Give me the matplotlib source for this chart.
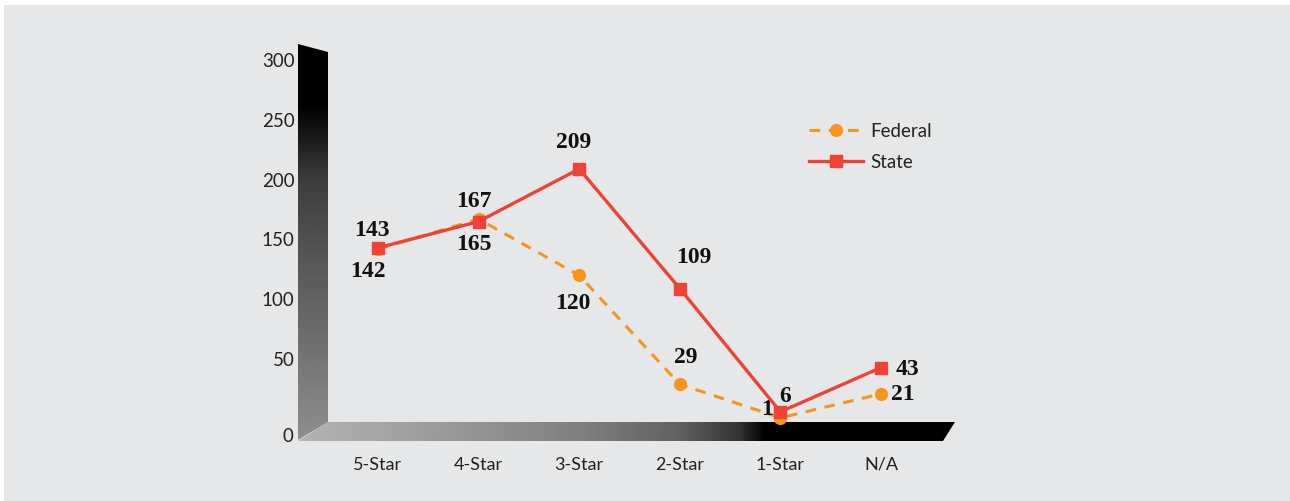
import numpy as np
import matplotlib.pyplot as plt
from matplotlib.patches import Polygon, Rectangle

# Data
categories = ["5-Star", "4-Star", "3-Star", "2-Star", "1-Star", "N/A"]
federal = [142, 167, 120, 29, 1, 21]
state = [143, 165, 209, 109, 6, 43]

# label offsets in pixels (dx, dy up)
federal_offsets = [(-10, -22), (-5, 18), (-6, -28), (6, 27), (-13, 8), (22, -1)]
state_offsets = [(-6, 17), (-5, -23), (-6, 26), (14, 31), (5, 15), (26, -2)]

FED_COLOR = "#f7941d"
STATE_COLOR = "#ef4136"
BG = "#e6e7e8"
W, H = 1290, 501

fig = plt.figure(figsize=(W / 100, H / 100), dpi=100, facecolor="white")

# background axes in pixel coordinates (y down)
bg = fig.add_axes([0, 0, 1, 1], zorder=0)
bg.add_patch(Rectangle((4, 5), W - 4, H - 5, color=BG, lw=0, zorder=0))

# 3D wall on the left
wall = Polygon([(298, 44), (328, 52), (328, 422), (298, 440)], closed=True,
               facecolor="none", edgecolor="none")
bg.add_patch(wall)
ys = np.linspace(44, 440, 400)
wall_gray = np.interp(ys, [44, 105, 180, 260, 330, 440], [0.0, 0.0, 0.24, 0.34, 0.42, 0.56])
img = bg.imshow(np.repeat(wall_gray[:, None], 2, axis=1), cmap="gray", vmin=0, vmax=1,
                extent=(298, 328, 440, 44), aspect="auto", interpolation="bilinear", zorder=2)
img.set_clip_path(wall)

# floor
floor = Polygon([(298, 441), (328, 422), (955, 422), (943, 441)], closed=True,
                facecolor="none", edgecolor="none")
bg.add_patch(floor)
xs = np.linspace(298, 955, 600)
floor_gray = np.interp(xs, [298, 330, 450, 580, 680, 740, 765, 955],
                       [0.70, 0.68, 0.6, 0.5, 0.38, 0.2, 0.0, 0.0])
img2 = bg.imshow(np.repeat(floor_gray[None, :], 2, axis=0), cmap="gray", vmin=0, vmax=1,
                 extent=(298, 955, 441, 422), aspect="auto", interpolation="bilinear", zorder=2)
img2.set_clip_path(floor)

bg.set_xlim(0, W)
bg.set_ylim(H, 0)
bg.axis("off")

# data axes: x from -0.5..5.5 -> px 327.7..931.3, y 0..300 -> px 419..60
ax = fig.add_axes([327.7 / W, (H - 419) / H, 603.6 / W, 359 / H], zorder=1)
ax.set_facecolor("none")
ax.set_xlim(-0.5, 5.5)
ax.set_ylim(0, 300)
for s in ax.spines.values():
    s.set_visible(False)

x = np.arange(len(categories))
ax.plot(x, federal, color=FED_COLOR, lw=2.2, ls=(0, (3.5, 2.8)), marker="o", ms=8.5,
        label="Federal", clip_on=False, zorder=3)
ax.plot(x, state, color=STATE_COLOR, lw=2.4, marker="s", ms=8.5,
        label="State", clip_on=False, zorder=4)

label_font = dict(family="Liberation Serif", fontweight="bold", fontsize=17, color="#111111")
for i in range(len(x)):
    ax.annotate(str(federal[i]), (x[i], federal[i]), xytext=federal_offsets[i],
                textcoords="offset pixels", ha="center", va="center", **label_font)
    ax.annotate(str(state[i]), (x[i], state[i]), xytext=state_offsets[i],
                textcoords="offset pixels", ha="center", va="center", **label_font)

tick_font = "Lato"
ax.set_xticks(x)
ax.set_xticklabels(categories, fontsize=13, family=tick_font, color="#222222")
ax.set_yticks([50, 100, 150, 200, 250, 300])
ax.set_yticklabels(["50", "100", "150", "200", "250", "300"], fontsize=13.5,
                   family=tick_font, color="#222222")
ax.tick_params(axis="x", length=0, pad=27)
ax.tick_params(axis="y", length=0, pad=24)
ax.annotate("0", (0, 0), xycoords="axes fraction", xytext=(-34, -17),
            textcoords="offset pixels", ha="right", va="center",
            fontsize=13.5, family=tick_font, color="#222222")

leg = ax.legend(loc="upper left", bbox_to_anchor=((792 - 327.7) / 603.6, (419 - 106) / 359),
                frameon=False, handlelength=2.9, handletextpad=0.4, labelspacing=0.75,
                prop={"family": tick_font, "size": 13.5})
for t in leg.get_texts():
    t.set_color("#222222")

fig.savefig("out.png", dpi=100, facecolor="white")
